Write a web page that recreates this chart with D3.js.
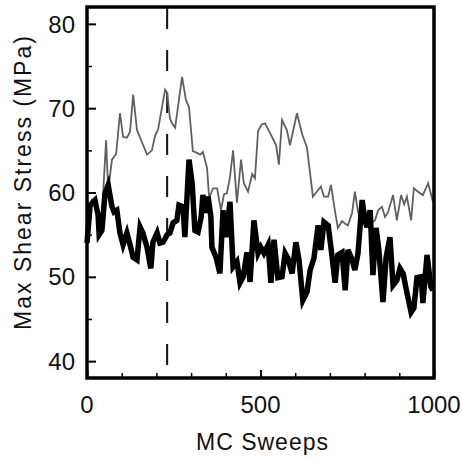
<!DOCTYPE html>
<html>
<head>
<meta charset="utf-8">
<script src="https://cdn.jsdelivr.net/npm/d3@7"></script>
<style>
  body { margin: 0; background: #fff; }
  svg text { font-family: "Liberation Sans", Arial, sans-serif; fill: #111; }
</style>
</head>
<body>
<div id="chart"></div>
<script>
// Max shear stress vs MC sweeps, two runs

var graySweeps = [0, 14, 23, 32, 43, 55, 61, 72, 84, 95, 104, 115, 124, 133, 144, 159, 173, 187, 196, 205,
  225, 231, 239, 245, 254, 274, 285, 294, 305, 317, 326, 334, 346, 352, 363, 375, 386, 395, 403, 412,
  421, 432, 444, 452, 464, 476, 484, 493, 504, 513, 527, 545, 553, 562, 576, 585, 605, 620, 634, 651,
  666, 674, 683, 695, 703, 715, 723, 735, 744, 752, 764, 772, 781, 793, 801, 810, 821, 830, 839, 850,
  859, 867, 882, 893, 905, 914, 922, 934, 942, 954, 968, 983, 997];
var grayStress = [57.3, 59.1, 58.5, 56.5, 57.3, 66.2, 60.3, 63.9, 64.6, 69.4, 66.6, 66.5, 67.2, 71.6, 67.4, 65.9, 64.5, 65.0, 66.7, 67.5,
  72.2, 71.8, 68.8, 68.2, 67.7, 73.7, 71.0, 70.1, 64.9, 64.7, 64.5, 64.8, 62.9, 59.3, 60.5, 60.5, 57.9, 59.8, 59.9, 61.8,
  65.0, 58.8, 63.9, 61.1, 60.1, 62.2, 61.7, 67.3, 68.1, 68.2, 67.1, 65.6, 63.3, 68.6, 67.4, 65.6, 69.4, 66.9, 65.3, 59.5,
  60.3, 60.7, 59.5, 59.5, 60.9, 57.7, 55.8, 56.6, 56.3, 56.1, 57.6, 60.1, 57.7, 56.4, 57.7, 56.5, 56.4, 56.7, 57.9, 58.3,
  57.1, 57.6, 59.7, 56.7, 59.7, 58.6, 59.5, 56.7, 60.5, 60.1, 59.7, 61.1, 58.9];

var blackSweeps = [0, 9, 23, 32, 35, 43, 52, 61, 72, 78, 86, 95, 104, 115, 124, 133, 144, 153, 161, 173,
  184, 190, 202, 210, 219, 231, 239, 248, 259, 265, 277, 282, 294, 303, 311, 320, 329, 334, 343, 349,
  357, 360, 372, 383, 392, 401, 412, 421, 432, 441, 450, 461, 470, 481, 493, 501, 510, 522, 530, 539,
  550, 562, 571, 579, 591, 602, 611, 622, 634, 643, 654, 666, 674, 683, 695, 703, 715, 723, 735, 744,
  752, 764, 772, 781, 793, 801, 807, 816, 824, 833, 841, 853, 862, 873, 882, 893, 902, 911, 922, 934,
  942, 951, 963, 968, 980, 991, 997];
var blackStress = [54.0, 58.5, 59.1, 57.3, 55.0, 55.5, 59.9, 60.9, 58.3, 57.7, 57.9, 55.2, 53.8, 55.2, 53.8, 52.3, 52.0, 55.9, 55.2, 53.5,
  51.0, 54.1, 55.2, 54.0, 54.1, 55.0, 55.2, 56.4, 56.7, 58.5, 58.3, 54.7, 63.9, 61.1, 55.5, 55.3, 57.1, 59.7, 57.6, 59.5,
  57.1, 53.5, 52.3, 50.4, 57.9, 54.7, 58.9, 51.2, 51.8, 49.3, 50.0, 52.9, 49.4, 56.7, 52.8, 53.5, 52.8, 53.8, 49.3, 54.4,
  49.9, 50.0, 52.8, 52.2, 50.4, 54.1, 52.0, 47.2, 48.2, 50.8, 52.2, 56.1, 53.2, 56.5, 56.1, 53.5, 49.3, 52.6, 52.9, 48.4,
  53.2, 52.0, 50.8, 52.8, 59.1, 56.7, 55.9, 57.9, 50.2, 55.8, 53.2, 47.0, 52.3, 54.7, 49.0, 49.6, 51.0, 50.4, 48.1, 45.8,
  46.3, 49.9, 50.0, 46.9, 52.6, 48.8, 48.4];

var equilSweep = 231;
var xTicks = [0, 500, 1000];
var xMinor = [100, 200, 300, 400, 600, 700, 800, 900];
var yTicks = [40, 50, 60, 70, 80];
var yMinor = [45, 55, 65, 75];

var margin = { top: 7, right: 28, bottom: 81, left: 87 };
var width = 462 - margin.left - margin.right;
var height = 459 - margin.top - margin.bottom;

const svg = d3.select('#chart').append('svg')
  .attr('width', 462)
  .attr('height', 459);
const g = svg.append('g')
  .attr('transform', `translate(${margin.left},${margin.top})`);

const x = d3.scaleLinear().domain([0, 1000]).range([0, width]);
const y = d3.scaleLinear().domain([38, 82]).range([height, 0]);

const line = d3.line()
  .x(d => x(d[0]))
  .y(d => y(d[1]));

// dashed marker
g.append('line')
  .attr('x1', x(equilSweep)).attr('x2', x(equilSweep))
  .attr('y1', 1).attr('y2', height)
  .style('stroke', '#111')
  .style('stroke-width', 2)
  .style('stroke-dasharray', '21,21');

g.append('path')
  .datum(d3.zip(graySweeps, grayStress))
  .attr('d', line)
  .style('fill', 'none')
  .style('stroke', '#606060')
  .style('stroke-width', 1.8);

g.append('path')
  .datum(d3.zip(blackSweeps, blackStress))
  .attr('d', line)
  .style('fill', 'none')
  .style('stroke', '#000')
  .style('stroke-width', 5.5)
  .style('stroke-linejoin', 'miter');

// ticks (inward)
g.append('g')
  .call(d3.axisRight(y).tickValues(yTicks).tickSize(9).tickFormat(''))
  .call(a => a.select('.domain').remove())
  .call(a => a.selectAll('line').style('stroke-width', 2));
g.append('g')
  .call(d3.axisRight(y).tickValues(yMinor).tickSize(5).tickFormat(''))
  .call(a => a.select('.domain').remove())
  .call(a => a.selectAll('line').style('stroke-width', 1.5));
g.append('g')
  .attr('transform', `translate(0,${height})`)
  .call(d3.axisTop(x).tickValues(xTicks).tickSize(8).tickFormat(''))
  .call(a => a.select('.domain').remove())
  .call(a => a.selectAll('line').style('stroke-width', 2));
g.append('g')
  .attr('transform', `translate(0,${height})`)
  .call(d3.axisTop(x).tickValues(xMinor).tickSize(5).tickFormat(''))
  .call(a => a.select('.domain').remove())
  .call(a => a.selectAll('line').style('stroke-width', 1.5));

// frame
g.append('rect')
  .attr('width', width).attr('height', height)
  .style('fill', 'none')
  .style('stroke', '#000')
  .style('stroke-width', 3.5);

// tick labels
g.selectAll('.ylab').data(yTicks).enter().append('text')
  .attr('x', -12)
  .attr('y', d => y(d))
  .attr('dy', '0.36em')
  .attr('text-anchor', 'end')
  .style('font-size', '24px')
  .text(d => d);
g.selectAll('.xlab').data(xTicks).enter().append('text')
  .attr('x', d => x(d))
  .attr('y', height + 35)
  .attr('text-anchor', 'middle')
  .style('font-size', '24px')
  .text(d => d);

svg.append('text')
  .attr('x', margin.left + width / 2 + 2)
  .attr('y', 450)
  .attr('text-anchor', 'middle')
  .style('font-size', '23px')
  .style('letter-spacing', '1px')
  .text('MC Sweeps');

svg.append('text')
  .attr('transform', 'translate(31,182) rotate(-90)')
  .attr('text-anchor', 'middle')
  .style('font-size', '23px')
  .style('letter-spacing', '2px')
  .text('Max Shear Stress (MPa)');
</script>
</body>
</html>
